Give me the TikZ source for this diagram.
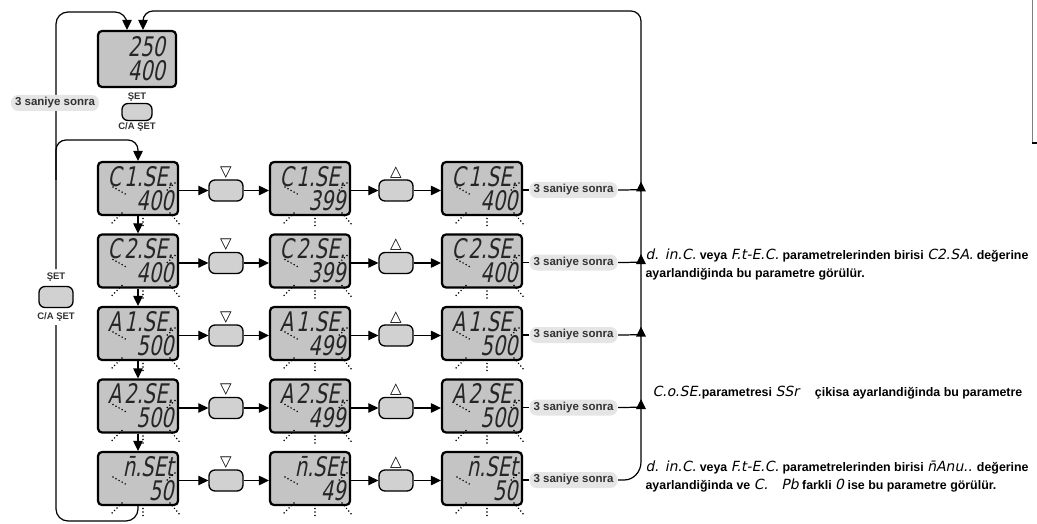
\documentclass[tikz,border=0pt]{standalone}
\usepackage{fontspec}
\setmainfont{Liberation Sans}
\newfontfamily\segfont{DejaVu Sans}[FakeSlant=0.2,FakeStretch=0.72]
\newfontfamily\segsatir{DejaVu Sans}[FakeSlant=0.2]
\newfontfamily\symfont{DejaVu Sans}
\usetikzlibrary{arrows.meta,calc}

\definecolor{ekrangri}{rgb}{0.77,0.77,0.77}
\definecolor{tusgri}{rgb}{0.82,0.82,0.82}
\definecolor{etiketgri}{rgb}{0.90,0.90,0.90}
\definecolor{yazigri}{rgb}{0.2,0.2,0.2}

\newcommand\seg[1]{{\mdseries\segsatir\fontsize{14}{14}\selectfont#1}}

\tikzset{
	ekran/.style={draw,line width=2.2pt,rounded corners=4pt,fill=ekrangri,
		minimum width=80pt,minimum height=53pt,text width=71pt,align=right,
		inner xsep=4.5pt,inner ysep=0pt,text=black!85,
		font=\segfont\fontsize{27}{24}\selectfont},
	ustekran/.style={ekran,text width=56pt,inner xsep=11pt,minimum width=78pt,minimum height=56pt},
	tus/.style={draw,line width=1.3pt,rounded corners=6pt,fill=tusgri,
		minimum width=34pt,minimum height=21pt,inner sep=0pt},
	isaret/.style={font=\symfont\fontsize{15}{15}\selectfont,inner sep=0.5pt},
	tusyazi/.style={font=\bfseries\fontsize{9.5}{10}\selectfont,text=yazigri,inner sep=1pt},
	etiket/.style={fill=etiketgri,rounded corners=7pt,minimum height=16pt,inner xsep=4pt,
		inner ysep=0pt,text=yazigri,font=\bfseries\fontsize{11.5}{12}\selectfont},
	aciklama/.style={anchor=west,align=left,inner sep=0pt,
		font=\bfseries\fontsize{12.4}{18}\selectfont},
	okyol/.style={-{Triangle[length=10pt,width=9.5pt]}},
	nokta/.style={line width=1.7pt,line cap=round,dash pattern=on 0pt off 3.5pt}
}

\begin{document}
\begin{tikzpicture}[x=1pt,y=-1pt,line width=1.2pt]
\useasboundingbox (0,0) rectangle (1037,524);
\def\noktalar#1{
	\draw[nokta] ($(#1)+(-25,-1.5)$) -- ($(#1)+(-11,6.5)$);
	\draw[nokta] ($(#1)+(37,-5.5)$) -- ($(#1)+(27,3.5)$);
	\draw[nokta] ($(#1)+(-16,24.5)$) -- ($(#1)+(-28,36.5)$);
	\draw[nokta] ($(#1)+(32,24.5)$) -- ($(#1)+(42,36.5)$);
	\draw[nokta] ($(#1)+(5,30)$) -- ($(#1)+(5,39)$);
}

% ana ekran
\node[ustekran] (ust) at (137,59) {250\\400};
\node[tus,minimum width=30pt,minimum height=17pt,
	label={[tusyazi]above:ŞET},label={[tusyazi]below:C/A ŞET}] (usttus) at (137,112) {};
\coordinate (giris1) at ([xshift=-10pt]ust.north);
\coordinate (giris2) at ([xshift=6pt]ust.north);

% parametre satirlari
\foreach \s/\ad/\v/\w in {1/{C\hspace{3pt}1.SE.}/400/399,2/{C\hspace{3pt}2.SE.}/400/399,
	3/{A\hspace{3pt}1.SE.}/500/499,4/{A\hspace{3pt}2.SE.}/500/499,5/{n̄.SEt}/50/49}{
	\pgfmathsetmacro\y{188.5+(\s-1)*72.5}
	\node[ekran] (e\s-1) at (138,\y) {\ad\\\v};
	\node[ekran] (e\s-2) at (310,\y) {\ad\\\w};
	\node[ekran] (e\s-3) at (482,\y) {\ad\\\v};
	\node[tus,label={[isaret]above:▽}] (t\s-1) at (226,\y+2) {};
	\node[tus,label={[isaret]above:△}] (t\s-2) at (396,\y+2) {};
	\node[etiket] (s\s) at (573.5,\y+1.5) {3 saniye sonra};
	\draw[okyol] (e\s-1.east |- t\s-1.west) -- (t\s-1.west);
	\draw[okyol] (t\s-1.east) -- (t\s-1.east -| e\s-2.west);
	\draw[okyol] (e\s-2.east |- t\s-2.west) -- (t\s-2.west);
	\draw[okyol] (t\s-2.east) -- (t\s-2.east -| e\s-3.west);
	\draw (e\s-3.east |- s\s.west) -- (s\s.west);
	\ifnum\s<5
		\coordinate (u\s) at (641,\y-7);
		\draw[okyol] (s\s.east) -- ++(6,0) to[out=0,in=-90] (u\s);
	\fi
	\foreach \k in {1,2,3}{\noktalar{e\s-\k}}
}
\foreach \s [evaluate=\s as \n using int(\s+1)] in {1,...,4}{
	\draw[okyol] (e\s-1.south) -- (e\n-1.north);
}

% sag donus
\coordinate (sagalt) at (641,462);
\coordinate (sagust) at (641,11);
\draw[okyol] (s5.east) -- ++(6,0) to[out=0,in=-90] (sagalt)
	[rounded corners=10pt] -- (sagust) -- (sagust -| giris2) -- (giris2);

% sol donus
\node[tus,label={[tusyazi,name=soltusust,outer sep=3pt]above:ŞET},
	label={[tusyazi,name=soltusalt,outer sep=3pt]below:C/A ŞET}] (soltus) at (56,297) {};
\coordinate (solalt) at (56,521);
\coordinate (solust) at (56,12);
\draw[rounded corners=12pt] (e5-1.south) -- (e5-1.south |- solalt) -- (solalt) -- (soltusalt.south);
\draw[okyol,rounded corners=12pt] (soltusust.north) -- (solust) -- (solust -| giris1) -- (giris1);
\coordinate (dal) at (56,180);
\coordinate (dalust) at (56,140);
\draw[okyol,rounded corners=10pt] (dal) -- (dalust) -- (dalust -| e1-1.north) -- (e1-1.north);
\node[etiket] (sol) at (55,103) {3 saniye sonra};

% aciklamalar
\node[aciklama] (not1) at (645,264) {\seg{d. in.C.} veya \seg{F.t-E.C.} parametrelerinden birisi \seg{C2.SA.} değerine\\
	ayarlandiğinda bu parametre görülür.};
\node[aciklama] (not2) at (652,393) {\seg{C.o.SE.}parametresi \seg{SSr}\quad\ çikisa ayarlandiğinda bu parametre};
\node[aciklama] (not3) at (645,476) {\seg{d. in.C.} veya \seg{F.t-E.C.} parametrelerinden birisi \seg{n̄Anu..} değerine\\
	ayarlandiğinda ve \seg{C.\ \ \ Pb} farkli \seg{0} ise bu parametre görülür.};

% kenar
\draw[gray,line width=0.8pt] (1032,0) -- (1032,143);
\draw[line width=1.5pt] (1032,143) -- (1037,143);
\end{tikzpicture}
\end{document}
